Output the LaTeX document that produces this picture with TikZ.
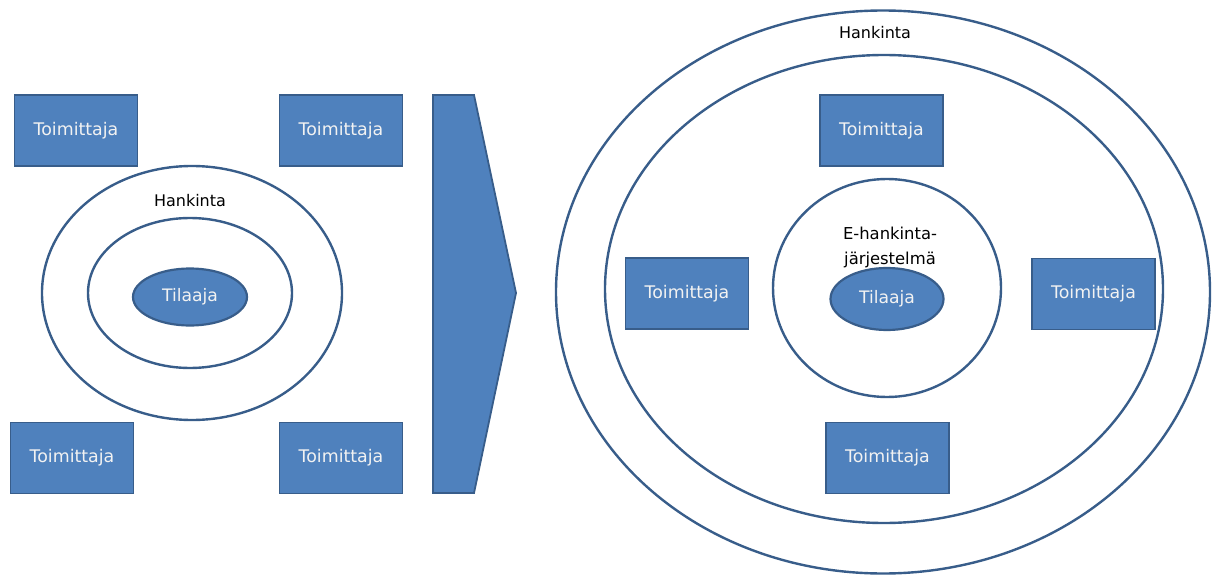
\documentclass[tikz,border=0pt]{standalone}
\usepackage{fontspec}
\setmainfont{DejaVu Sans}
\usetikzlibrary{shapes.geometric}
\definecolor{boxblue}{HTML}{4F81BD}
\definecolor{edgeblue}{HTML}{385D8A}
\definecolor{labelwhite}{HTML}{F2F2F2}
\tikzset{
  supplier/.style={rectangle, draw=edgeblue, line width=1.8pt, fill=boxblue,
    text=labelwhite, minimum width=123pt, minimum height=71pt, inner sep=0pt,
    font=\fontsize{17.4}{20}\selectfont},
  ring/.style={ellipse, draw=edgeblue, line width=2.4pt, inner sep=0pt},
  buyer/.style={ellipse, draw=edgeblue, line width=2.2pt, fill=boxblue,
    text=labelwhite, inner sep=0pt, font=\fontsize{17.2}{20}\selectfont},
  caption/.style={text=black, font=\fontsize{16}{19}\selectfont, align=center, inner sep=0pt}
}
\begin{document}
\begin{tikzpicture}[x=1pt, y=-1pt]
\useasboundingbox (0,0) rectangle (1212,575);

% left side: procurement rings with suppliers around them
\node[ring, minimum width=300pt, minimum height=254pt] (lout) at (192,293) {};
\node[ring, minimum width=204pt, minimum height=150pt] (lin) at (190,293) {};
\node[buyer, minimum width=114pt, minimum height=57pt] (lbuy) at (190,297) {Tilaaja};
\node[caption] (lhank) at (190,201) {Hankinta};

\node[supplier] (s1) at (76,130.5) {Toimittaja};
\node[supplier] (s2) at (341,130.5) {Toimittaja};
\node[supplier] (s3) at (72,458) {Toimittaja};
\node[supplier] (s4) at (341,458) {Toimittaja};

% transition arrow
\draw[draw=edgeblue, line width=1.8pt, fill=boxblue, line join=miter]
  (433,95) -- (474,95) -- (516,293) -- (474,493) -- (433,493) -- cycle;

% right side: e-procurement system inside procurement
\node[ring, minimum width=654pt, minimum height=563pt] (rout) at (883,292) {};
\node[ring, minimum width=558pt, minimum height=468pt] (rmid) at (884,289) {};
\node[ring, minimum width=228pt, minimum height=218pt] (rin) at (887,288) {};
\node[buyer, minimum width=113pt, minimum height=62pt] (rbuy) at (887,299) {Tilaaja};
\node[caption] (rhank) at (875,33) {Hankinta};
\node[caption, font=\fontsize{16.4}{25}\selectfont] (esys) at (890,247) {E-hankinta-\\järjestelmä};

\node[supplier] (t1) at (881.5,130.5) {Toimittaja};
\node[supplier] (t2) at (687,293.5) {Toimittaja};
\node[supplier] (t3) at (1093.5,294) {Toimittaja};
\node[supplier] (t4) at (887.5,458) {Toimittaja};
\end{tikzpicture}
\end{document}
